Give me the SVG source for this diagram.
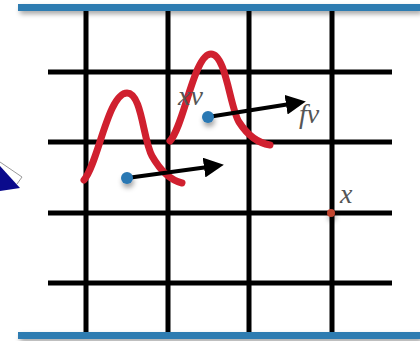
<svg xmlns="http://www.w3.org/2000/svg" width="420" height="341" viewBox="0 0 420 341">
<style>
.grid line{stroke:#000;stroke-width:5}
.bar{fill:#2f7bb1}
.curve{fill:none;stroke:#d0202f;stroke-width:7;stroke-linecap:round;stroke-linejoin:round}
.arrow{stroke:#000;stroke-width:4;fill:none}
.lbl{font-family:"Liberation Serif",serif;font-style:italic;font-size:28px;fill:#555}
</style>
<defs>
<filter id="sh" x="-20%" y="-50%" width="140%" height="300%">
<feDropShadow dx="2" dy="3" stdDeviation="2.5" flood-color="#000" flood-opacity="0.35"/>
</filter>
<filter id="dsh" x="-100%" y="-100%" width="300%" height="300%">
<feDropShadow dx="1" dy="4" stdDeviation="2.5" flood-color="#000" flood-opacity="0.35"/>
</filter>
<marker id="ah" markerWidth="5" markerHeight="5" refX="1" refY="2.5" orient="auto" markerUnits="strokeWidth">
<path d="M0,0 L5,2.5 L0,5 z" fill="#000"/>
</marker>
</defs>
<g id="left-triangle">
<polygon points="0,166 20,188 0,191" fill="#0a0a8c"/>
<polyline points="0,162 22,177 17,184" fill="none" stroke="#999" stroke-width="1"/>
</g>
<g id="grid" class="grid">
<line x1="86" y1="10" x2="86" y2="333"/>
<line x1="168" y1="10" x2="168" y2="333"/>
<line x1="249" y1="10" x2="249" y2="333"/>
<line x1="332" y1="10" x2="332" y2="333"/>
<line x1="48" y1="72" x2="392" y2="72"/>
<line x1="48" y1="142" x2="392" y2="142"/>
<line x1="48" y1="213" x2="392" y2="213"/>
<line x1="48" y1="283" x2="392" y2="283"/>
</g>
<g id="bars">
<rect class="bar" x="18" y="4" width="402" height="7" filter="url(#sh)"/>
<rect class="bar" x="18" y="332" width="402" height="7" filter="url(#sh)"/>
</g>
<g id="curves">
<path class="curve" d="M84,180 C98,164 108,93 127,93 C142,93 143,140 152,156 C160,170 170,180 182,183"/>
<path class="curve" d="M170,141 C184,126 194,54 211,54 C226,54 230,108 239,122 C248,136 258,143 270,145"/>
</g>
<g id="connectors">
<line class="arrow" x1="127" y1="178" x2="208" y2="167" marker-end="url(#ah)"/>
<line class="arrow" x1="208" y1="117" x2="290" y2="104" marker-end="url(#ah)"/>
</g>
<g id="node-xv">
<circle cx="127" cy="178" r="6" fill="#2a78b3" filter="url(#dsh)"/>
<circle cx="208" cy="117" r="6" fill="#2a78b3" filter="url(#dsh)"/>
<text class="lbl" x="178" y="105">xv</text>
</g>
<g id="node-fv">
<text class="lbl" x="299" y="123">fv</text>
</g>
<g id="node-x">
<circle cx="331" cy="213" r="4" fill="#c2442f" filter="url(#dsh)"/>
<text class="lbl" x="340" y="203">x</text>
</g>
</svg>
